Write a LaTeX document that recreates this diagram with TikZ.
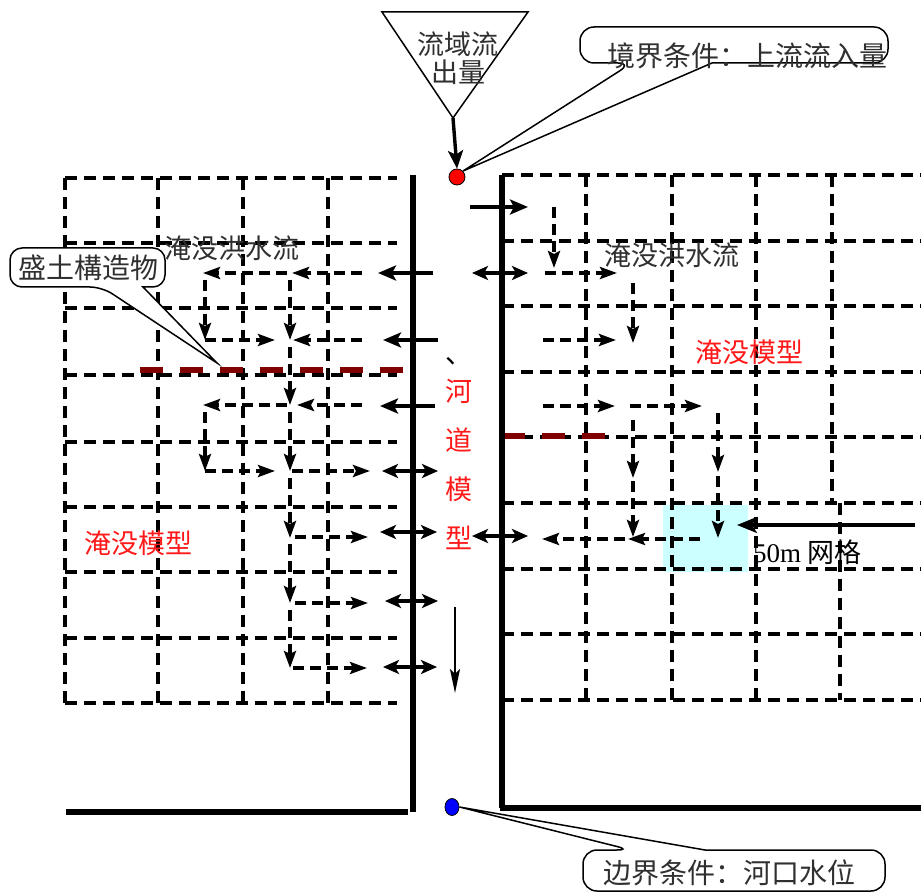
\documentclass[tikz,border=0pt]{standalone}
\usepackage{fontspec}
\setmainfont{Liberation Serif}
\newfontfamily\cjk{Noto Sans CJK SC}
\usetikzlibrary{arrows.meta,shapes.geometric}
\definecolor{levcol}{HTML}{800000}
\definecolor{cellcyan}{HTML}{CCFFFF}
\definecolor{txtgray}{HTML}{303030}
\definecolor{myred}{HTML}{FF1A1A}
\begin{document}
\begin{tikzpicture}[x=1pt,y=-1pt,
  gridline/.style={line width=3.4pt,dash pattern=on 12pt off 7pt},
  bank/.style={line width=6pt},
  levee/.style={line width=6.5pt,draw=levcol,dash pattern=on 23pt off 17pt},
  flow/.style={line width=3.4pt,-{Stealth[length=18pt,width=15pt,inset=4pt]}},
  flowboth/.style={line width=3.4pt,{Stealth[length=16pt,width=14pt,inset=4pt]}-{Stealth[length=16pt,width=14pt,inset=4pt]}},
  dflow/.style={line width=3.4pt,dash pattern=on 11pt off 6pt,-{Stealth[length=17pt,width=12pt,inset=3pt]}},
  callout/.style={line width=1.5pt,fill=white},
  lbl/.style={font=\cjk\fontsize{27pt}{28pt}\selectfont,inner sep=0pt},
  clbl/.style={font=\cjk\fontsize{28pt}{30pt}\selectfont,inner sep=0pt,text=txtgray},
]
\useasboundingbox (0,0) rectangle (921,893);

% highlighted 50m cell
\fill[cellcyan] (663,505) rectangle (748,572);

% left grid
\foreach \y in {178,243,308,375,442,507,572,638,703}
  \draw[gridline] (65,\y) -- (397,\y);
\foreach \x in {65,158,243,328}
  \draw[gridline] (\x,178) -- (\x,703);

% right grid
\foreach \y in {175,241,306,372,437,503,569,634,700}
  \draw[gridline] (502,\y) -- (921,\y);
\foreach \x in {586,672,756}
  \draw[gridline] (\x,175) -- (\x,700);
\draw[gridline] (832,175) -- (832,503);
\draw[gridline] (840,503) -- (840,700);

% levees (embankments)
\draw[levee] (140,370) -- (413,370);
\draw[levee] (502,436) -- (607,436);

% river banks
\draw[bank] (413,175) -- (413,812);
\draw[bank] (66,812) -- (408,812);
\draw[bank] (502,175) -- (502,808);
\draw[bank] (500,808) -- (921,808);

% river <-> floodplain exchange
\draw[flow] (433,273) -- (378,273);
\draw[flow] (438,340) -- (383,340);
\draw[flow] (435,406) -- (380,406);
\draw[flow] (470,207) -- (528,207);
\draw[flowboth] (382,471) -- (438,471);
\draw[flowboth] (380,532) -- (437,532);
\draw[flowboth] (385,601) -- (438,601);
\draw[flowboth] (383,667) -- (437,667);
\draw[flowboth] (472,273) -- (528,273);
\draw[flowboth] (472,536) -- (528,536);
\draw[line width=2.2pt,-{Stealth[length=24pt,width=10pt,inset=5pt]}] (455,607) -- (455,693);
\draw[line width=3.4pt,-{Stealth[length=20pt,width=16pt,inset=5pt]}] (915,525) -- (737,525);

% left floodplain flow
\draw[dflow] (362,273) -- (292,273);
\draw[dflow] (287,273) -- (203,273);
\draw[dflow] (205,280) -- (205,340);
\draw[dflow] (205,340) -- (275,340);
\draw[dflow] (290,280) -- (290,340);
\draw[dflow] (362,340) -- (293,340);
\draw[dflow] (290,347) -- (290,405);
\draw[dflow] (362,405) -- (297,405);
\draw[dflow] (287,405) -- (203,405);
\draw[dflow] (205,412) -- (205,471);
\draw[dflow] (205,471) -- (275,471);
\draw[dflow] (290,412) -- (290,471);
\draw[dflow] (292,471) -- (370,471);
\draw[dflow] (290,478) -- (290,538);
\draw[dflow] (295,537) -- (368,537);
\draw[dflow] (290,544) -- (290,603);
\draw[dflow] (295,603) -- (368,603);
\draw[dflow] (290,610) -- (290,668);
\draw[dflow] (293,668) -- (367,668);

% right floodplain flow
\draw[dflow] (554,207) -- (554,268);
\draw[dflow] (545,273) -- (617,273);
\draw[dflow] (633,283) -- (633,343);
\draw[dflow] (543,340) -- (616,340);
\draw[dflow] (543,406) -- (615,406);
\draw[dflow] (630,406) -- (702,406);
\draw[dflow] (633,420) -- (633,478);
\draw[dflow] (633,481) -- (633,537);
\draw[dflow] (718,413) -- (718,472);
\draw[dflow] (718,476) -- (718,538);
\draw[dflow] (700,539) -- (628,539);
\draw[dflow] (625,539) -- (542,539);

% labels
\node[lbl,text=txtgray] (flowL) at (232,248) {淹没洪水流};
\node[lbl,text=txtgray] (flowR) at (672,255) {淹没洪水流};
\node[lbl,text=myred] (inunR) at (749,352) {淹没模型};
\node[lbl,text=myred] (inunL) at (138,543) {淹没模型};
\node[font=\cjk\fontsize{27pt}{49pt}\selectfont,inner sep=0pt,text=myred,align=center] (chan) at (459,464) {河\\道\\模\\型};
\node[lbl,text=black] (comma) at (459,361) {、};
\node[inner sep=0pt,anchor=west] (mesh) at (753,552) {\fontsize{27pt}{28pt}\selectfont 50m {\cjk 网格}};

% catchment outflow triangle
\coordinate (triL) at (382,12);
\coordinate (triR) at (528,12);
\coordinate (triB) at (453,118);
\draw[line width=1.5pt,fill=white] (triL) -- (triR) -- (triB) -- cycle;
\node[lbl,text=txtgray,align=center] (tritext) at (458,58) {流域流\\出量};
\node[circle,fill=red,draw=black,line width=0.8pt,minimum size=16pt,inner sep=0pt] (inflow) at (457,177) {};
\draw[flow] (triB) -- (inflow.north);

\node[ellipse,fill=blue,draw=black,line width=0.8pt,minimum width=14pt,minimum height=17pt,inner sep=0pt] (outflow) at (452,807) {};

% callouts
\coordinate (cTip) at (inflow.north east);
\draw[callout] (730,27) [rounded corners=14pt] -- (580,27) -- (580,63) -- (632,63) [sharp corners] -- (cTip) -- (712,63) [rounded corners=14pt] -- (888,63) -- (888,27) -- cycle;
\node[clbl] (ctop) at (747,56) {境界条件：上流流入量};

\coordinate (lTip) at (217,363);
\draw[callout] (88,248) [rounded corners=12pt] -- (10,248) -- (10,287) -- (102,287) [sharp corners] -- (lTip) -- (143,287) [rounded corners=12pt] -- (165,287) -- (165,248) -- cycle;
\node[clbl] (cleft) at (88,268) {盛土構造物};

\coordinate (bTip) at (outflow.east);
\draw[callout] (730,891) [rounded corners=14pt] -- (583,891) -- (583,850) -- (631,850) [sharp corners] -- (bTip) -- (705,850) [rounded corners=14pt] -- (885,850) -- (885,891) -- cycle;
\node[clbl] (cbot) at (729,873) {边界条件：河口水位};
\end{tikzpicture}
\end{document}
